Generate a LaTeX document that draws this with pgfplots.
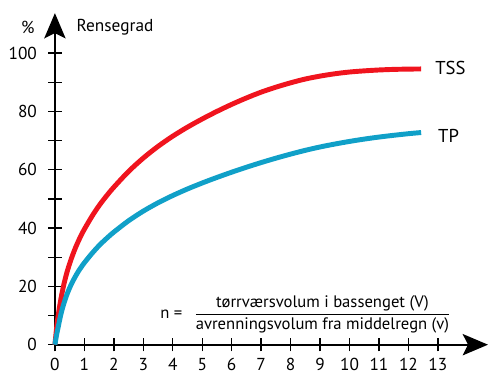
\documentclass[border=0pt]{standalone}
\usepackage{fontspec}
\setmainfont{PT Sans}
\usepackage{pgfplots}
\pgfplotsset{compat=1.18}
\usetikzlibrary{arrows.meta}
\definecolor{tssred}{RGB}{240,20,30}
\definecolor{tpblue}{RGB}{16,160,200}

\begin{document}
\begin{tikzpicture}
\begin{axis}[
    x=22.125pt, y=2.19pt,
    xmin=0, xmax=14.7,
    ymin=0, ymax=113.7,
    axis lines=left,
    axis line style={line width=1.5pt, -{Stealth[length=19pt,width=16pt,inset=4pt]}},
    xtick={0,...,13},
    ytick={0,20,...,100},
    minor ytick={10,30,...,90},
    tick align=center,
    major tick length=10pt,
    minor tick length=10pt,
    tick style={black, line width=1pt},
    /pgf/number format/assume math mode=true,
    ticklabel style={font=\fontsize{13}{15}\selectfont},
    yticklabel style={xshift=-5pt},
    xticklabel style={yshift=-1.5pt},
    clip=false,
]

% TSS
\addplot[tssred, line width=3.7pt, smooth, tension=0.5] coordinates {
    (0,0) (0.05,5) (0.1,9.3) (0.2,15.5) (0.3,20.5) (0.4,24.5) (0.5,27.8)
    (0.6,30.7) (0.7,33.3) (0.8,35.6) (0.9,37.7) (1,39.6) (1.25,43.9)
    (1.5,47.7) (1.75,51) (2,54) (2.5,59.4) (3,64) (3.5,68) (4,71.5)
    (4.5,74.6) (5,77.4) (5.5,80) (6,82.4) (6.5,84.6) (7,86.6)
    (7.5,88.3) (8,89.8) (8.5,91.1) (9,92.1) (9.5,92.9) (10,93.5)
    (10.5,93.9) (11,94.2) (11.5,94.4) (12,94.5) (12.43,94.55)
};

% TP
\addplot[tpblue, line width=3.7pt, smooth, tension=0.5] coordinates {
    (0,0) (0.05,3) (0.1,5.5) (0.2,10.3) (0.3,14) (0.4,17) (0.5,19.5)
    (0.6,21.6) (0.7,23.5) (0.8,25.2) (0.9,26.7) (1,28.1) (1.25,31.2)
    (1.5,34) (1.75,36.4) (2,38.6) (2.5,42.5) (3,45.8) (3.5,48.65) (4,51.15)
    (4.5,53.4) (5,55.45) (5.5,57.35) (6,59.15) (6.5,60.85) (7,62.45)
    (7.5,63.95) (8,65.35) (8.5,66.65) (9,67.8) (9.5,68.8) (10,69.7)
    (10.5,70.5) (11,71.2) (11.5,71.8) (12,72.35) (12.43,72.75)
};

% tekster
\node[font=\fontsize{13}{15}\selectfont] at (axis cs:-0.92,108.9) {\%};
\node[anchor=west, font=\fontsize{13}{15}\selectfont] at (axis cs:0.58,108.9) {Rensegrad};
\node[anchor=west, font=\fontsize{14}{16}\selectfont] at (axis cs:12.75,94.9) {TSS};
\node[anchor=west, font=\fontsize{14}{16}\selectfont] at (axis cs:12.85,71.6) {TP};
\node[font=\fontsize{12.5}{14}\selectfont] at (axis cs:3.95,10.3) {n =};
\node[font=\fontsize{12.5}{14}\selectfont] at (axis cs:9.08,10.3)
    {$\displaystyle\frac{\mbox{tørrværsvolum i bassenget (V)}}{\mbox{avrenningsvolum fra middelregn (v)}}$};

% ramme
\path (axis cs:-1.864,-8.2) rectangle (axis cs:14.71,118.2);
\end{axis}
\end{tikzpicture}
\end{document}
